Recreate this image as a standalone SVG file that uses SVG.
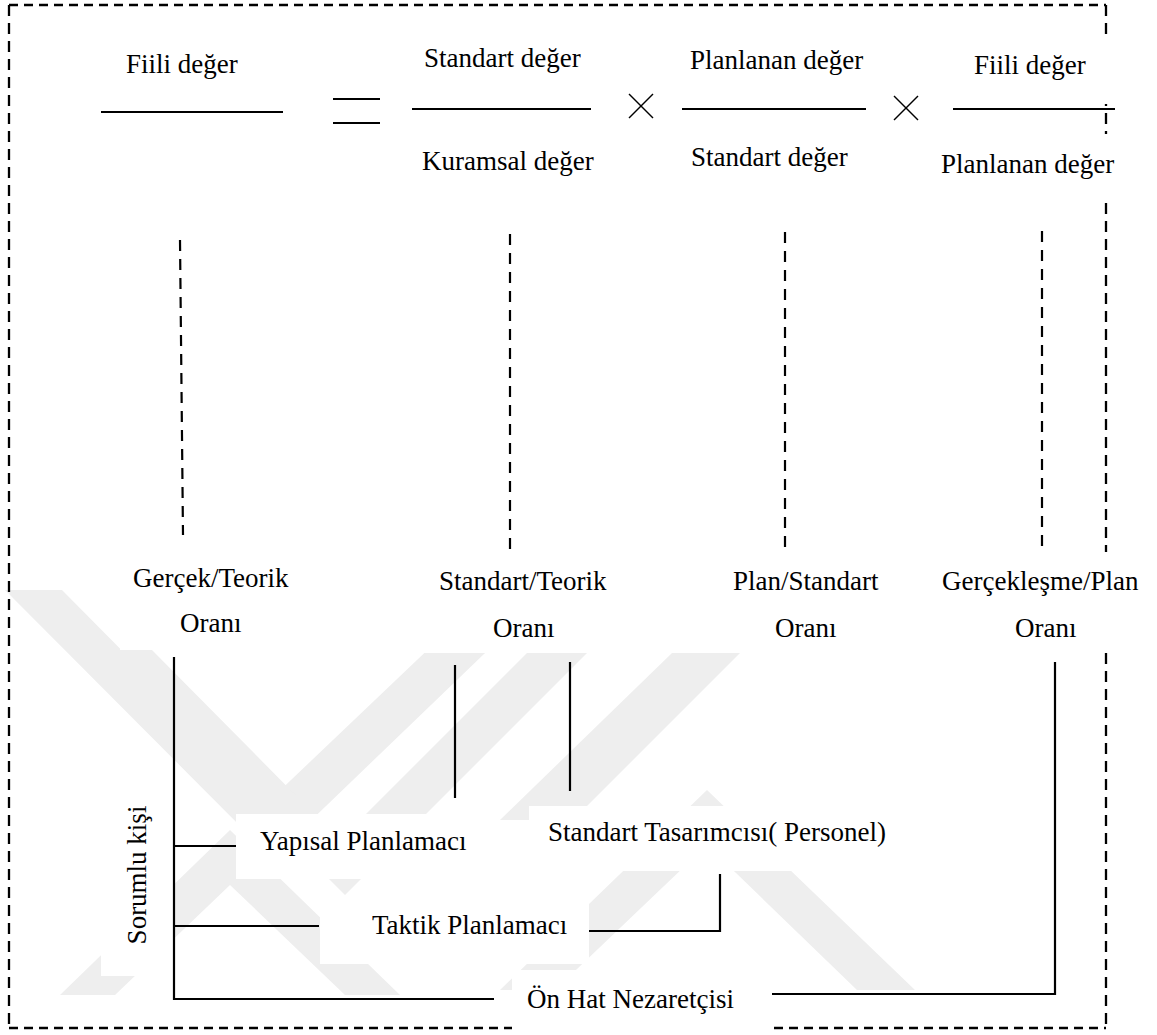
<svg xmlns="http://www.w3.org/2000/svg" width="1157" height="1035" viewBox="0 0 1157 1035">
  <style>
    .t { font-family: "Liberation Serif", "Times New Roman", serif; font-size: 27px; fill: #000; }
    .box { fill: #fff; }
    .wm { fill: #eeeeee; }
    .bh { stroke: #000; stroke-width: 2.3; stroke-dasharray: 9 6; fill: none; }
    .bv { stroke: #000; stroke-width: 2.3; stroke-dasharray: 11 7; fill: none; }
    .dash { stroke: #000; stroke-width: 2.2; stroke-dasharray: 11 8; fill: none; }
    .ln { stroke: #000; stroke-width: 2.2; fill: none; }
    .frac { stroke: #000; stroke-width: 2; fill: none; }
    .op { stroke: #000; stroke-width: 1.4; fill: none; }
  </style>

  <rect width="1157" height="1035" fill="#fff"/>

  <!-- faint background emblem -->
  <g id="watermark" class="wm">
    <polygon points="5,590 62,590 270,800 480,600 540,600 272,858"/>
    <polygon points="100,650 152,650 340,840 530,650 590,650 345,895"/>
    <polygon points="500,820 573,820 740,653 672,653"/>
    <polygon points="707,790 915,990 857,990 707,845 555,990 500,990"/>
    <polygon points="230,830 400,995 345,995 230,885 115,995 60,995"/>
  </g>

  <!-- dashed outer frame -->
  <g id="frame">
    <line class="bh" x1="9" y1="5" x2="1106" y2="5"/>
    <line class="bh" x1="9" y1="1028" x2="1106" y2="1028"/>
    <line class="bv" x1="9" y1="5" x2="9" y2="1028"/>
    <line class="bv" x1="1106" y1="5" x2="1106" y2="1028"/>
  </g>

  <!-- formula: fraction bars and operators -->
  <g id="formula">
    <line class="frac" x1="101" y1="112" x2="283" y2="112"/>
    <line class="frac" x1="333" y1="99" x2="380" y2="99"/>
    <line class="frac" x1="333" y1="123" x2="380" y2="123"/>
    <line class="frac" x1="412" y1="109" x2="591" y2="109"/>
    <line class="op" x1="629" y1="94" x2="653" y2="118"/>
    <line class="op" x1="653" y1="94" x2="629" y2="118"/>
    <line class="frac" x1="682" y1="109" x2="866" y2="109"/>
    <line class="op" x1="894" y1="96" x2="918" y2="120"/>
    <line class="op" x1="918" y1="96" x2="894" y2="120"/>
  </g>

  <!-- formula terms -->
  <g id="n-fiili-1"><text class="t" x="126" y="73">Fiili değer</text></g>
  <g id="n-standart-1"><text class="t" x="424" y="67">Standart değer</text></g>
  <g id="n-kuramsal"><text class="t" x="422" y="170">Kuramsal değer</text></g>
  <g id="n-planlanan-1"><text class="t" x="690" y="69">Planlanan değer</text></g>
  <g id="n-standart-2"><text class="t" x="691" y="166">Standart değer</text></g>
  <g id="n-fiili-2">
    <rect class="box" x="940" y="40" width="217" height="64"/>
    <text class="t" x="974" y="74">Fiili değer</text>
  </g>
  <g id="n-planlanan-2">
    <rect class="box" x="935" y="134" width="222" height="64"/>
    <text class="t" x="941" y="173">Planlanan değer</text>
  </g>
  <line class="frac" x1="953" y1="109" x2="1115" y2="109"/>

  <!-- ratio labels -->
  <g id="n-gercek-teorik">
    <rect class="box" x="120" y="552" width="285" height="98"/>
    <text class="t" x="133" y="587">Gerçek/Teorik</text>
    <text class="t" x="180" y="632">Oranı</text>
  </g>
  <g id="n-standart-teorik">
    <rect class="box" x="405" y="552" width="285" height="101"/>
    <text class="t" x="439" y="590">Standart/Teorik</text>
    <text class="t" x="493" y="637">Oranı</text>
  </g>
  <g id="n-plan-standart">
    <rect class="box" x="690" y="552" width="250" height="101"/>
    <text class="t" x="733" y="590">Plan/Standart</text>
    <text class="t" x="775" y="637">Oranı</text>
  </g>
  <g id="n-gerceklesme-plan">
    <rect class="box" x="940" y="552" width="217" height="101"/>
    <text class="t" x="942" y="590">Gerçekleşme/Plan</text>
    <text class="t" x="1015" y="637">Oranı</text>
  </g>

  <!-- responsible persons -->
  <g id="n-sorumlu">
    <rect class="box" x="101" y="790" width="73" height="186"/>
    <text class="t" text-anchor="middle" transform="translate(146 875) rotate(-90)">Sorumlu kişi</text>
  </g>
  <g id="n-yapisal">
    <rect class="box" x="236" y="814" width="260" height="65"/>
    <text class="t" x="260" y="850">Yapısal Planlamacı</text>
  </g>
  <g id="n-standart-tasarimci">
    <rect class="box" x="529" y="806" width="371" height="65"/>
    <text class="t" x="548" y="841">Standart Tasarımcısı( Personel)</text>
  </g>
  <g id="n-taktik">
    <rect class="box" x="320" y="898" width="269" height="66"/>
    <text class="t" x="372" y="934">Taktik Planlamacı</text>
  </g>
  <g id="n-on-hat">
    <rect class="box" x="512" y="970" width="260" height="65"/>
    <text class="t" x="527" y="1008">Ön Hat Nezaretçisi</text>
  </g>

  <!-- connectors -->
  <g id="connectors">
    <line class="dash" x1="180" y1="240" x2="183" y2="535"/>
    <line class="dash" x1="510" y1="234" x2="510" y2="550"/>
    <line class="dash" x1="785" y1="232" x2="785" y2="553"/>
    <line class="dash" x1="1042" y1="231" x2="1042" y2="553"/>
    <path class="ln" d="M174 657 V999 H494"/>
    <path class="ln" d="M174 846 H236"/>
    <path class="ln" d="M174 926 H319"/>
    <path class="ln" d="M455 665 V798"/>
    <path class="ln" d="M570 662 V791"/>
    <path class="ln" d="M589 931 H720 V874"/>
    <path class="ln" d="M772 994 H1055 V662"/>
  </g>
</svg>
